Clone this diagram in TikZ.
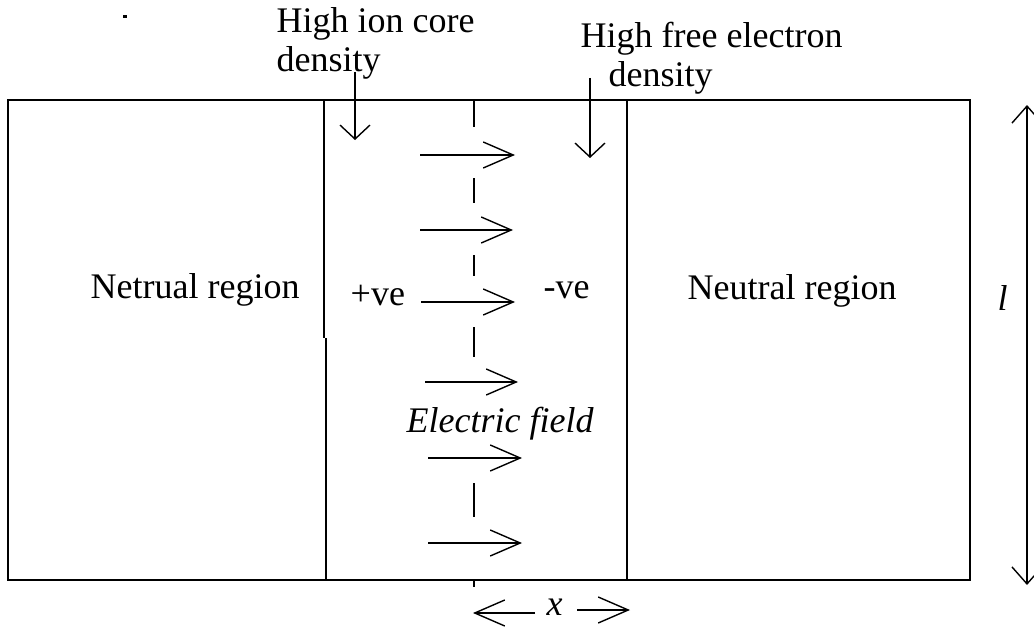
\documentclass[tikz,border=0pt]{standalone}
\usepackage{fontspec}
\setmainfont{Liberation Serif}
\usetikzlibrary{arrows.meta}
\begin{document}
\begin{tikzpicture}[x=1pt,y=-1pt,line width=1.4pt,
  lbl/.style={inner sep=0pt,anchor=base west,font=\fontsize{36}{40}\selectfont},
  ilbl/.style={lbl,font=\fontsize{36}{40}\selectfont\itshape},
  farrow/.style={-{Straight Barb[length=30pt,width=26pt]}},
  darrow/.style={-{Straight Barb[length=14pt,width=30pt]}},
  varrow/.style={{Straight Barb[length=17pt,width=30pt]}-{Straight Barb[length=17pt,width=30pt]}}]
\useasboundingbox (0,0) rectangle (1034,634);
\fill (123,15) rectangle (127,18);
% box and boundaries
\draw (8,100) rectangle (970,580);
\draw (324,100) -- (324,338);
\draw (326,338) -- (326,580);
\draw (627,100) -- (627,580);
% dashed centre line
\foreach \a/\b in {100/127,178/203,255/276,327/357,483/517,580/587}
  \draw (474,\a) -- (474,\b);
% labels
\node[lbl] (ion1) at (276,33) {High ion core};
\node[lbl] (ion2) at (276,72) {density};
\node[lbl] (fe1) at (580,48) {High free electron};
\node[lbl] (fe2) at (608,87) {density};
\node[lbl] (lreg) at (90,298) {Netrual region};
\node[lbl] (rreg) at (687,299) {Neutral region};
\node[lbl] (pos) at (350,305) {+ve};
\node[lbl] (neg) at (543,298) {-ve};
\node[ilbl] (ef) at (406,432) {Electric field};
\node[ilbl] (ll) at (997,310) {l};
\node[ilbl] (xx) at (546,615) {x};
% density arrows
\coordinate (ia) at (355,72); \coordinate (ib) at (355,140);
\coordinate (ea) at (590,78); \coordinate (eb) at (590,158);
\draw[darrow] (ia) -- (ib);
\draw[darrow] (ea) -- (eb);
% field arrows
\foreach \i/\xa/\xb/\y in {1/420/515/155,2/420/513/230,3/421/515/302,4/425/518/382,5/428/522/458,6/428/522/543}{
  \coordinate (f\i a) at (\xa,\y); \coordinate (f\i b) at (\xb,\y);
  \draw[farrow] (f\i a) -- (f\i b);
}
% length l
\coordinate (lt) at (1027,105); \coordinate (lb) at (1027,585);
\draw[varrow] (lt) -- (lb);
% width x
\coordinate (xl1) at (535,613); \coordinate (xl2) at (473,613);
\coordinate (xr1) at (577,610); \coordinate (xr2) at (630,610);
\draw[farrow] (xl1) -- (xl2);
\draw[farrow] (xr1) -- (xr2);
\end{tikzpicture}
\end{document}
